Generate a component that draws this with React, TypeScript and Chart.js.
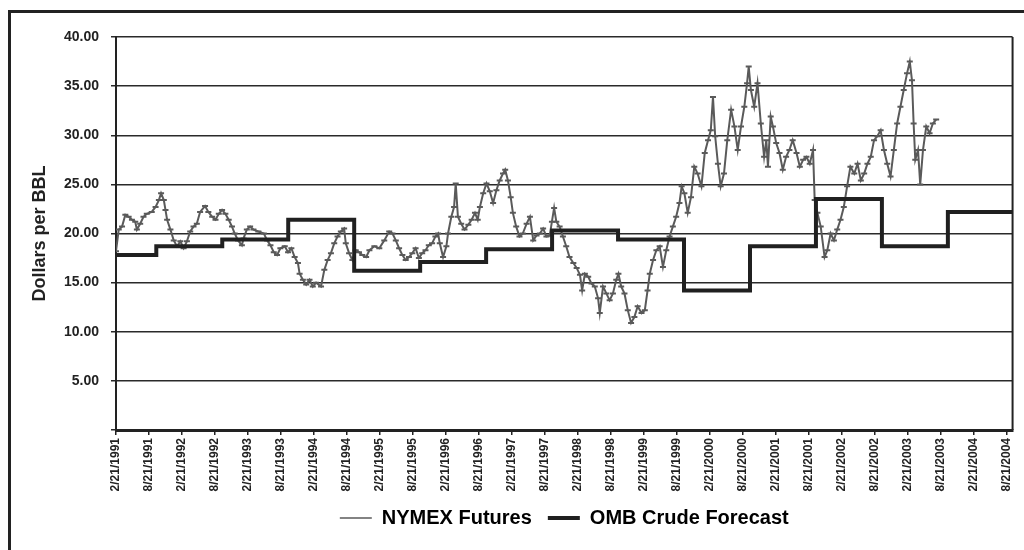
import React, { useEffect, useRef } from 'react';
import { Chart, registerables } from 'chart.js';

Chart.register(...registerables);

// X axis: months elapsed since 2/21/1991; tick labels every six months
const xTickLabels = [
  '2/21/1991', '8/21/1991', '2/21/1992', '8/21/1992', '2/21/1993', '8/21/1993',
  '2/21/1994', '8/21/1994', '2/21/1995', '8/21/1995', '2/21/1996', '8/21/1996',
  '2/21/1997', '8/21/1997', '2/21/1998', '8/21/1998', '2/21/1999', '8/21/1999',
  '2/21/2000', '8/21/2000', '2/21/2001', '8/21/2001', '2/21/2002', '8/21/2002',
  '2/21/2003', '8/21/2003', '2/21/2004', '8/21/2004',
];
const xMaxMonth = 163.1;

// NYMEX futures (months since 2/21/1991, $/bbl)
const nymexMonths = [
  0, 0.5, 1.1, 1.7, 2.3, 2.9, 3.5, 3.8, 4.4, 5.0, 5.6, 6.5, 7.2, 7.8, 8.2, 8.7, 9.0, 9.3, 9.9,
  10.5, 11.1, 11.7, 12.3, 12.9, 13.5, 14.1, 14.7, 15.3, 16.2, 16.8, 17.5, 18.1, 18.7, 19.3, 19.9,
  20.5, 21.1, 21.6, 22.2, 22.9, 23.2, 23.8, 24.4, 25.0, 25.9, 26.9, 27.5, 28.1, 28.7, 29.3, 29.9,
  30.7, 31.3, 31.9, 32.5, 33.1, 33.4, 34.0, 34.6, 35.2, 35.8, 36.4, 37.3, 37.9, 38.5, 39.1, 39.7,
  40.3, 40.9, 41.5, 41.8, 42.4, 43.0, 43.6, 44.2, 44.8, 45.5, 46.1, 47.0, 47.9, 48.8, 49.7, 50.3,
  50.9, 51.5, 52.1, 52.7, 53.3, 53.9, 54.5, 55.1, 55.7, 56.3, 56.9, 57.5, 58.1, 58.6, 58.9, 59.5,
  60.1, 60.4, 61.0, 61.5, 61.8, 62.2, 62.8, 63.4, 64.1, 64.7, 65.3, 65.8, 66.2, 66.8, 67.4, 68.0,
  68.6, 69.2, 69.8, 70.4, 70.8, 71.3, 71.8, 72.2, 72.8, 73.4, 74.0, 74.7, 75.3, 75.9, 76.5, 77.1,
  77.7, 78.3, 78.9, 79.3, 79.7, 80.1, 80.7, 81.3, 81.9, 82.5, 83.2, 83.8, 84.4, 84.8, 85.3, 85.9,
  86.5, 87.1, 87.7, 88.0, 88.6, 89.2, 89.8, 90.4, 91.0, 91.4, 91.9, 92.5, 93.1, 93.7, 94.3, 94.9,
  95.6, 96.2, 96.7, 97.1, 97.7, 98.3, 98.9, 99.5, 100.1, 100.7, 101.3, 101.9, 102.5, 102.9, 103.4,
  104.0, 104.6, 105.2, 105.8, 106.5, 107.1, 107.7, 108.2, 108.6, 109.0, 109.5, 110.0, 110.6, 111.2,
  111.9, 112.5, 113.1, 113.7, 114.3, 114.8, 115.1, 115.5, 116.1, 116.7, 117.3, 117.9, 118.3, 118.6,
  119.1, 119.5, 120.1, 120.7, 121.3, 121.9, 122.5, 123.1, 123.8, 124.4, 125.0, 125.6, 126.2, 126.8,
  127.1, 127.6, 128.2, 128.9, 129.4, 130.0, 130.6, 131.2, 131.8, 132.4, 133.0, 133.6, 134.3, 134.9,
  135.5, 136.1, 136.7, 137.3, 137.9, 138.5, 139.1, 139.7, 140.3, 140.9, 141.5, 142.1, 142.7, 143.3,
  143.9, 144.4, 144.8, 145.1, 145.4, 145.9, 146.3, 146.8, 147.4, 148.0, 148.6, 149.2,
];
const nymexPrices = [
  18.2, 20.4, 20.7, 21.9, 21.7, 21.4, 21.2, 20.4, 21.0, 21.7, 22.0, 22.2, 22.7, 23.4, 24.1, 23.4, 22.4, 21.4, 20.4,
  19.3, 18.7, 19.2, 18.5, 19.2, 20.2, 20.7, 21.0, 22.2, 22.8, 22.2, 21.7, 21.4, 22.0, 22.4, 22.0,
  21.4, 20.7, 20.0, 19.3, 18.8, 19.5, 20.4, 20.7, 20.4, 20.2, 20.0, 19.3, 18.8, 18.1, 17.8, 18.5,
  18.7, 18.1, 18.5, 17.6, 17.0, 15.9, 15.3, 14.8, 15.3, 14.6, 15.0, 14.6, 16.3, 17.3, 18.0, 19.0,
  19.7, 20.2, 20.5, 19.0, 18.0, 17.3, 18.3, 18.1, 17.8, 17.6, 18.3, 18.7, 18.5, 19.3, 20.2, 20.0,
  19.3, 18.5, 17.8, 17.3, 17.6, 18.0, 18.5, 17.5, 18.0, 18.3, 18.8, 19.0, 19.7, 20.0, 19.0, 17.6,
  18.7, 20.0, 21.7, 22.7, 25.1, 21.7, 21.0, 20.4, 20.9, 21.4, 22.1, 21.4, 22.7, 24.1, 25.1, 24.3,
  23.1, 24.4, 25.4, 26.1, 26.5, 25.4, 23.7, 22.1, 20.7, 19.7, 20.0, 21.0, 21.7, 19.3, 19.8, 20.0,
  20.5, 19.7, 19.8, 21.2, 22.6, 21.2, 20.7, 19.7, 18.7, 17.6, 17.0, 16.5, 15.8, 14.2, 15.9, 15.6,
  14.9, 14.6, 13.4, 11.9, 14.6, 13.9, 13.2, 13.9, 15.3, 15.9, 14.6, 13.9, 12.2, 10.9, 11.5, 12.6,
  11.9, 12.2, 14.2, 15.9, 17.3, 18.3, 18.7, 16.6, 18.3, 19.7, 20.7, 21.7, 23.1, 24.8, 24.1,
  22.1, 23.7, 26.8, 26.1, 24.8, 28.2, 29.5, 30.5, 33.9, 29.9, 27.1, 24.8, 26.1, 29.5,
  32.6, 30.9, 28.5, 30.9, 32.9, 35.3, 37.0, 34.6, 32.9, 35.3, 31.2, 27.8, 29.5, 26.8,
  31.9, 30.9, 29.2, 28.2, 26.5, 27.8, 28.5, 29.5, 28.2, 26.8, 27.5, 27.8, 27.1, 28.5,
  23.4, 22.1, 20.7, 17.6, 18.3, 20.0, 19.3, 20.4, 21.4, 22.7, 24.8, 26.8, 26.1, 27.1,
  25.4, 26.1, 27.1, 27.8, 29.5, 29.9, 30.5, 28.5, 27.1, 25.8, 28.5, 31.2, 32.9, 34.6,
  36.3, 37.5, 35.6, 31.2, 27.5, 28.5, 25.0, 28.5, 30.9, 30.2, 31.2, 31.6,
];

// OMB crude forecast by fiscal year (each starting 10/1), $/bbl
const ombStartMonths = [0, 7.33, 19.33, 31.33, 43.33, 55.33, 67.33, 79.33, 91.33, 103.33, 115.33, 127.33, 139.33, 151.33];
const ombForecast = [17.8, 18.7, 19.4, 21.4, 16.2, 17.1, 18.4, 20.3, 19.4, 14.2, 18.7, 23.5, 18.7, 22.2];

const seriesNames = ['NYMEX Futures', 'OMB Crude Forecast'];
const FONT = "'Liberation Sans', Arial, Helvetica, sans-serif";

const plotFrame = {
  id: 'plotFrame',
  beforeDatasetsDraw(chart: any) {
    const { ctx, chartArea } = chart;
    ctx.save();
    ctx.strokeStyle = '#222';
    ctx.lineWidth = 2;
    ctx.beginPath();
    ctx.moveTo(chartArea.right, chartArea.top);
    ctx.lineTo(chartArea.right, chartArea.bottom);
    ctx.stroke();
    ctx.restore();
  },
};

export default function App() {
  const canvasRef = useRef<HTMLCanvasElement | null>(null);

  useEffect(() => {
    if (!canvasRef.current) return;
    const nymexData = nymexMonths.map((m, i) => ({ x: m, y: nymexPrices[i] }));
    const ombData = ombStartMonths.map((m, i) => ({ x: m, y: ombForecast[i] }));
    ombData.push({ x: xMaxMonth, y: ombForecast[ombForecast.length - 1] });

    const chart = new Chart(canvasRef.current, {
      type: 'line',
      data: {
        datasets: [
          {
            label: seriesNames[0],
            data: nymexData,
            borderColor: '#5a5a5a',
            borderWidth: 2,
            pointStyle: 'line',
            pointRadius: 3,
            pointBorderWidth: 2,
            pointBorderColor: '#5a5a5a',
            tension: 0,
            order: 2,
          },
          {
            label: seriesNames[1],
            data: ombData,
            borderColor: '#202020',
            borderWidth: 4,
            pointRadius: 0,
            stepped: 'before',
            order: 1,
          },
        ],
      },
      options: {
        responsive: false,
        animation: false,
        layout: { padding: { top: 37, right: 11, bottom: 12, left: 0 } },
        plugins: {
          tooltip: { enabled: false },
          legend: {
            position: 'bottom',
            fullSize: false,
            labels: {
              usePointStyle: true,
              pointStyleWidth: 32,
              padding: 16,
              color: '#222',
              font: { family: FONT, size: 20, weight: 'bold' },
              generateLabels: () => [
                { text: seriesNames[0], strokeStyle: '#5a5a5a', fillStyle: '#5a5a5a', lineWidth: 1.5, pointStyle: 'line', hidden: false, datasetIndex: 0 },
                { text: seriesNames[1], strokeStyle: '#202020', fillStyle: '#202020', lineWidth: 4, pointStyle: 'line', hidden: false, datasetIndex: 1 },
              ],
            },
          },
        },
        scales: {
          x: {
            type: 'linear',
            min: 0,
            max: xMaxMonth,
            afterBuildTicks: (s: any) => {
              s.ticks = xTickLabels.map((_, i) => ({ value: i * 6 }));
            },
            afterFit: (s: any) => {
              s.height = 62;
            },
            ticks: {
              autoSkip: false,
              minRotation: 90,
              maxRotation: 90,
              padding: 3,
              color: '#222',
              font: { family: FONT, size: 12, weight: 'bold' },
              callback: (v: any) => xTickLabels[Math.round(Number(v) / 6)] ?? '',
            },
            grid: { drawOnChartArea: false, drawTicks: true, tickLength: 5, color: '#222', lineWidth: 1.5 },
            border: { display: true, color: '#222', width: 3 },
          },
          y: {
            min: 0,
            max: 40,
            afterFit: (s: any) => {
              s.width = 116;
            },
            ticks: {
              stepSize: 5,
              padding: 12,
              color: '#222',
              font: { family: FONT, size: 14, weight: 'bold' },
              callback: (v: any) => (Number(v) === 0 ? '' : Number(v).toFixed(2)),
            },
            grid: { color: '#2a2a2a', lineWidth: 1.5, tickLength: 5 },
            border: { display: true, color: '#222', width: 2 },
            title: {
              display: true,
              text: 'Dollars per BBL',
              color: '#222',
              font: { family: FONT, size: 18, weight: 'bold' },
              padding: { top: 29, bottom: 0 },
            },
          },
        },
      },
      plugins: [plotFrame],
    });
    return () => chart.destroy();
  }, []);

  return (
    <div style={{ position: 'fixed', left: 0, top: 0, width: 1024, height: 550, overflow: 'hidden', background: '#fff' }}>
      <div
        style={{
          position: 'absolute',
          left: 8,
          top: 10,
          width: 1100,
          height: 600,
          borderLeft: '3px solid #222',
          borderTop: '3px solid #222',
        }}
      />
      <canvas ref={canvasRef} width={1024} height={550} style={{ position: 'absolute', left: 0, top: 0 }} />
    </div>
  );
}
